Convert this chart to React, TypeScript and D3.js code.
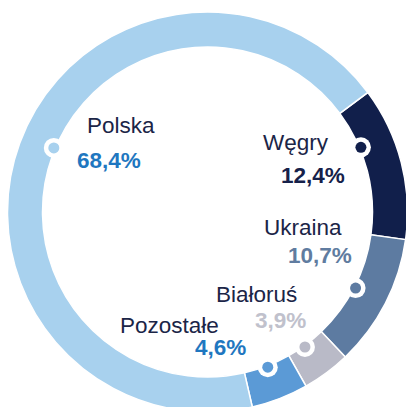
import React from "react";
import * as d3 from "d3";

const categories = ["Węgry", "Ukraina", "Białoruś", "Pozostałe", "Polska"];
const values = [12.4, 10.7, 3.9, 4.6, 68.4];
const valueLabels = ["12,4%", "10,7%", "3,9%", "4,6%", "68,4%"];
const colors = ["#111f4b", "#5d7ba1", "#b9bac7", "#5b9ad6", "#a8d1ee"];
const valueColors = ["#16214a", "#607ca0", "#c0c1cc", "#1f77c0", "#1f77c0"];
// layout: position of marker within its segment (fraction)
const markerPos = [0.31, 0.5, 0.55, 0.5, 0.51];
// layout: label anchors [nameX, nameY, valueX, valueY]
const labelPos = [
  [263, 150, 281, 183],
  [264, 235, 288, 263],
  [216, 302, 255, 328],
  [120, 333, 195, 355],
  [87, 133, 77, 168],
];

const W = 406;
const H = 407;
const cx = 207.5;
const cy = 212;
const rOuter = 200;
const rInner = 165;
const startDeg = 53.3;

export default function App() {
  const pie = d3
    .pie<number>()
    .sort(null)
    .value((d) => d)
    .startAngle((startDeg * Math.PI) / 180)
    .endAngle((startDeg * Math.PI) / 180 + 2 * Math.PI);
  const arcs = pie(values);
  const arc = d3.arc<d3.PieArcDatum<number>>().innerRadius(rInner).outerRadius(rOuter);
  const font = "'Liberation Sans', Arial, sans-serif";
  return (
    <svg
      width={W}
      height={H}
      style={{ position: "absolute", left: 0, top: 0, background: "#fff" }}
    >
      <g transform={`translate(${cx},${cy})`}>
        {arcs.map((a, i) => (
          <path key={i} d={arc(a) || ""} fill={colors[i]} stroke="#fff" strokeWidth={1.5} />
        ))}
        {arcs.map((a, i) => {
          const ang = a.startAngle + (a.endAngle - a.startAngle) * markerPos[i];
          const r = 166.5;
          const x = Math.sin(ang) * r;
          const y = -Math.cos(ang) * r;
          return (
            <g key={"m" + i}>
              <circle cx={x} cy={y} r={10} fill="#fff" />
              <circle cx={x} cy={y} r={5.5} fill={colors[i]} />
            </g>
          );
        })}
      </g>
      {categories.map((c, i) => (
        <g key={"t" + i}>
          <text x={labelPos[i][0]} y={labelPos[i][1]} fontFamily={font} fontSize={22.5} fill="#1b2547">
            {c}
          </text>
          <text
            x={labelPos[i][2]}
            y={labelPos[i][3]}
            fontFamily={font}
            fontSize={22.5}
            fontWeight="bold"
            fill={valueColors[i]}
          >
            {valueLabels[i]}
          </text>
        </g>
      ))}
    </svg>
  );
}
